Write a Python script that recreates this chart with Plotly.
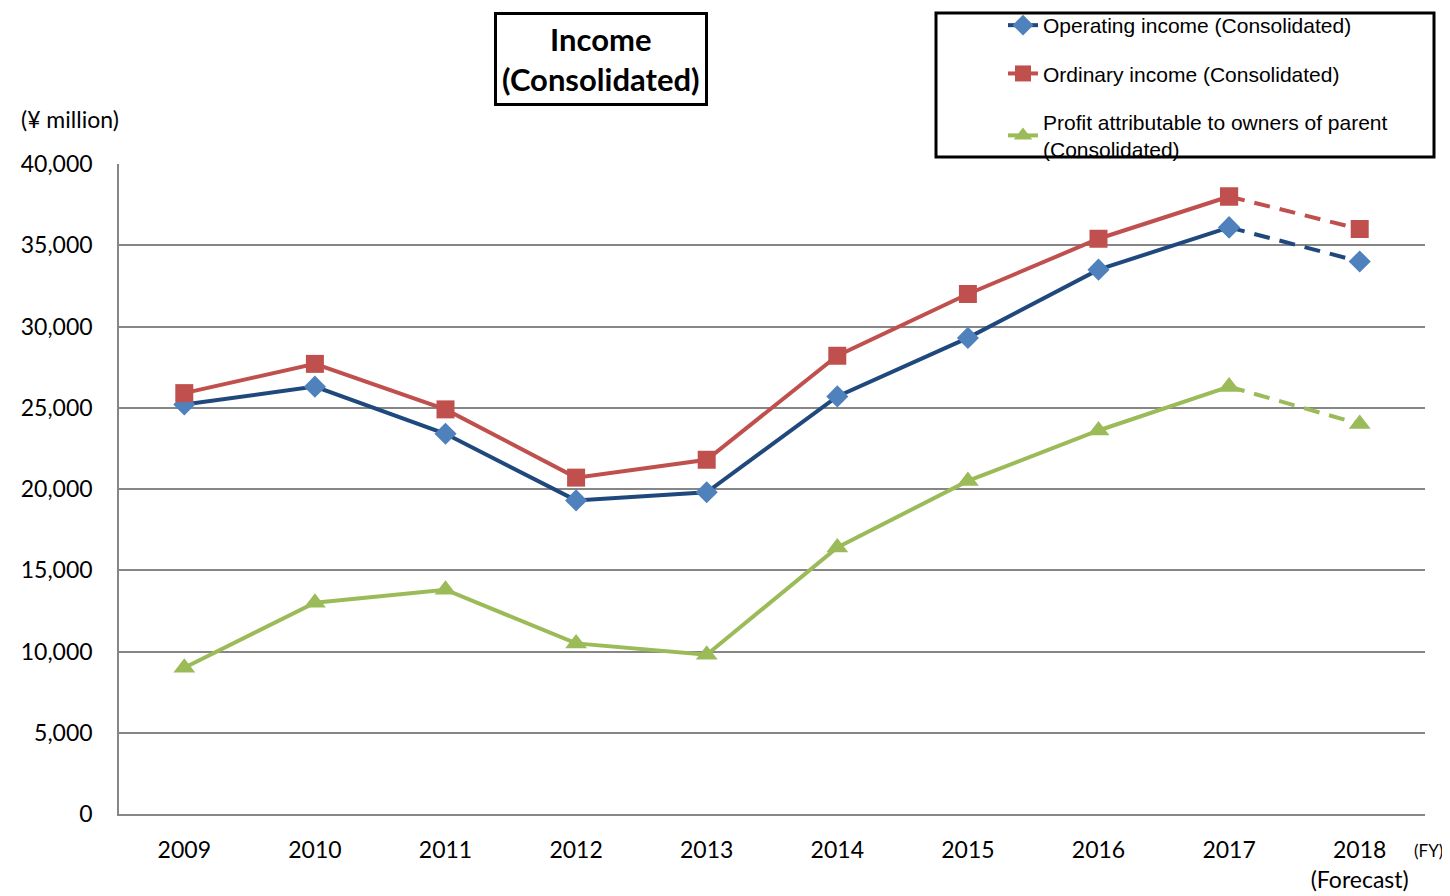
import plotly.graph_objects as go

years = ["2009", "2010", "2011", "2012", "2013", "2014", "2015", "2016", "2017", "2018"]
tick_labels = ["2009", "2010", "2011", "2012", "2013", "2014", "2015", "2016", "2017",
               "2018<br>(Forecast)"]
operating = [25200, 26300, 23400, 19300, 19800, 25700, 29300, 33500, 36100, 34000]
ordinary = [25900, 27700, 24900, 20700, 21800, 28200, 32000, 35400, 38000, 36000]
profit = [9000, 13000, 13800, 10500, 9800, 16400, 20500, 23600, 26300, 24000]

series = [
    ("Operating income (Consolidated)", operating, "#1F497D", "#4F81BD", "diamond", 17),
    ("Ordinary income (Consolidated)", ordinary, "#C0504D", "#C0504D", "square", 18),
    ("Profit attributable to owners of parent<br>(Consolidated)", profit, "#9BBB59", "#9BBB59",
     "triangle-up", 19),
]

fig = go.Figure()
for i, (name, vals, lc, mc, sym, size) in enumerate(series):
    # actual results, solid line
    fig.add_trace(go.Scatter(
        x=years[:9], y=vals[:9], mode="lines+markers", name=name, legendgroup=f"g{i}",
        line=dict(color=lc, width=4),
        marker=dict(symbol=sym, size=size, color=mc),
    ))
    # forecast segment, dashed
    fig.add_trace(go.Scatter(
        x=years[8:], y=vals[8:], mode="lines+markers", showlegend=False, legendgroup=f"g{i}",
        line=dict(color=lc, width=4, dash="16px,10px"),
        marker=dict(symbol=sym, size=size, color=mc),
    ))

# page pixel -> paper helpers (page has an 8px body margin)
OFF = 8
W, H = 1450 - OFF, 896 - OFF
L, R, T, B = 119 - OFF, 25, 164 - OFF, 82
pw, ph = W - L - R, H - T - B
def px(x):
    return (x - OFF - L) / pw
def py(y):
    return (H - B - (y - OFF)) / ph

fig.update_layout(
    width=W, height=H,
    margin=dict(l=L, r=R, t=T, b=B, autoexpand=False),
    plot_bgcolor="white", paper_bgcolor="white",
    font=dict(family="Lato", size=23, color="black"),
    showlegend=True,
    legend=dict(
        x=px(1003), y=py(5), xanchor="left", yanchor="top",
        font=dict(family="Liberation Sans", size=21, color="black"),
        bgcolor="rgba(0,0,0,0)", borderwidth=0,
        traceorder="grouped", tracegroupgap=18,
    ),
    xaxis=dict(
        type="category", range=[-0.5, 9.5], tickvals=years, ticktext=tick_labels,
        showgrid=False, showline=True, linecolor="#868686", linewidth=1.5,
        ticks="", tickfont=dict(size=23), ticklabelstandoff=15,
    ),
    yaxis=dict(
        range=[0, 40000], dtick=5000, tickformat=",d",
        showgrid=True, gridcolor="#868686", gridwidth=1.5,
        showline=True, linecolor="#868686", linewidth=1.5,
        ticks="", ticklabelstandoff=20, zeroline=False, tickfont=dict(size=23),
    ),
)

# frame around the legend
fig.add_shape(type="rect", xref="paper", yref="paper",
              x0=px(936), x1=px(1434), y0=py(13), y1=py(157),
              line=dict(color="black", width=3), fillcolor="rgba(0,0,0,0)")

fig.add_annotation(
    text="<b>Income</b><br><b>(Consolidated)</b>", x=px(601), y=py(59),
    xref="paper", yref="paper", xanchor="center", yanchor="middle", showarrow=False,
    font=dict(family="Lato", size=31, color="black"),
    bordercolor="black", borderwidth=3, borderpad=5, bgcolor="white",
)
fig.add_annotation(text="(¥ million)", x=px(70), y=py(119), xref="paper", yref="paper",
                   xanchor="center", yanchor="middle",
                   showarrow=False, font=dict(family="Lato", size=23))
fig.add_annotation(text="(FY)", x=px(1428), y=py(850), xref="paper", yref="paper",
                   xanchor="center", yanchor="middle",
                   showarrow=False, font=dict(family="Lato", size=17))

fig.write_html("out.html")
